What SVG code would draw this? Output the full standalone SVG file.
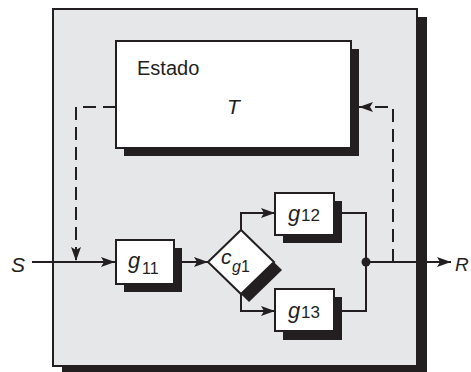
<svg xmlns="http://www.w3.org/2000/svg" width="471" height="372" viewBox="0 0 471 372">
<defs>
<style>
.sh{fill:#231f20;stroke:none}
.bx{fill:#fff;stroke:#231f20;stroke-width:2}
.ln{fill:none;stroke:#231f20;stroke-width:2}
.ds{fill:none;stroke:#231f20;stroke-width:2;stroke-dasharray:13 7}
.t{font-family:"Liberation Sans",Arial,sans-serif;fill:#231f20}
.i{font-style:italic}
</style>
<marker id="ah" markerUnits="userSpaceOnUse" markerWidth="15" markerHeight="10" refX="14" refY="5" orient="auto">
<path d="M0,0 L14,5 L0,10 L3,5 z" fill="#231f20" stroke="none"/>
</marker>
</defs>
<g id="panel">
<rect class="sh" x="62" y="17" width="365" height="360"/>
<rect x="53" y="9" width="364" height="357" fill="#e6e7e8" stroke="#231f20" stroke-width="2"/>
</g>
<g id="estado">
<rect class="sh" x="124" y="49" width="235" height="107"/>
<rect class="bx" x="116" y="41" width="235" height="107"/>
<text class="t" x="137" y="75" font-size="20">Estado</text>
<text class="t i" x="227" y="114" font-size="21">T</text>
</g>
<g id="g11">
<rect class="sh" x="124" y="248" width="58" height="44"/>
<rect class="bx" x="116" y="240" width="58" height="44"/>
<text class="t i" x="128" y="268" font-size="22">g</text>
<text class="t" x="142" y="274" font-size="16">11</text>
</g>
<g id="cg1">
<polygon class="sh" points="216,270 249,238 282,270 249,302"/>
<polygon class="bx" points="208,262 241,230 274,262 241,294"/>
<text class="t i" x="221" y="264" font-size="21">c</text>
<text class="t i" x="232" y="272" font-size="16">g<tspan font-style="normal">1</tspan></text>
</g>
<g id="g12">
<rect class="sh" x="283" y="201" width="59" height="42"/>
<rect class="bx" x="275" y="193" width="59" height="42"/>
<text class="t i" x="288" y="221" font-size="22">g</text>
<text class="t" x="301" y="221" font-size="17">12</text>
</g>
<g id="g13">
<rect class="sh" x="283" y="297" width="59" height="43"/>
<rect class="bx" x="275" y="289" width="59" height="42"/>
<text class="t i" x="288" y="318" font-size="22">g</text>
<text class="t" x="301" y="318" font-size="17">13</text>
</g>
<g id="io">
<text class="t i" x="11" y="272" font-size="21">S</text>
<text class="t i" x="455" y="271" font-size="19">R</text>
</g>
<g id="connectors">
<path class="ln" d="M32 262 H115" marker-end="url(#ah)"/>
<path class="ln" d="M174 262 H208" marker-end="url(#ah)"/>
<path class="ln" d="M241 230 V213 H275" marker-end="url(#ah)"/>
<path class="ln" d="M241 294 V311 H275" marker-end="url(#ah)"/>
<path class="ln" d="M334 213 H366 V311 H334"/>
<path class="ln" d="M366 262 H451" marker-end="url(#ah)"/>
<circle cx="366" cy="262" r="4.5" fill="#231f20"/>
<path class="ds" d="M116 107 H76 V261" marker-end="url(#ah)"/>
<path class="ds" d="M393 262 V107 H359" marker-end="url(#ah)"/>
</g>
</svg>
